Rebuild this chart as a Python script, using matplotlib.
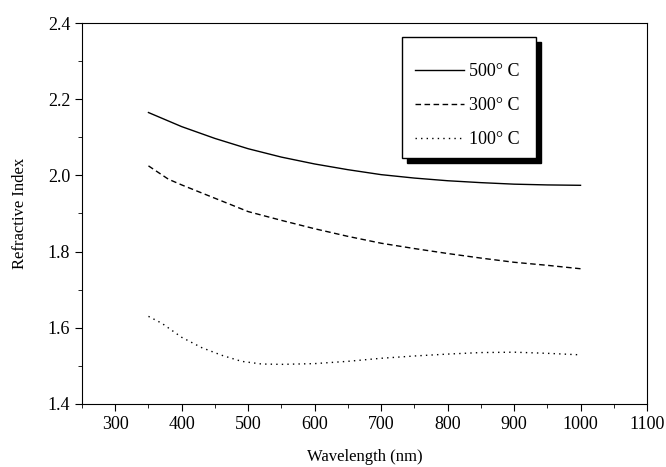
import numpy as np
import matplotlib.pyplot as plt
from matplotlib.patches import Rectangle

plt.rcParams['font.family'] = ['Liberation Serif', 'DejaVu Serif']

wl_500 = [350, 400, 450, 500, 550, 600, 650, 700, 750, 800, 850, 900, 950, 1000]
n_500 = [2.165, 2.128, 2.097, 2.070, 2.048, 2.030, 2.015, 2.002, 1.993, 1.986, 1.981, 1.977, 1.975, 1.974]

wl_300 = [350, 380, 400, 450, 500, 550, 600, 650, 700, 750, 800, 850, 900, 950, 1000]
n_300 = [2.025, 1.990, 1.975, 1.940, 1.905, 1.882, 1.860, 1.840, 1.822, 1.808, 1.795, 1.783, 1.772, 1.764, 1.755]

wl_100 = [350, 370, 400, 430, 460, 490, 520, 550, 600, 650, 700, 750, 800, 850, 900, 950, 1000]
n_100 = [1.630, 1.612, 1.575, 1.548, 1.528, 1.512, 1.505, 1.504, 1.506, 1.512, 1.520, 1.526, 1.531, 1.535, 1.536, 1.533, 1.529]

labels = ['500° C', '300° C', '100° C']

fig = plt.figure(figsize=(6.66, 4.67), dpi=100)
ax = fig.add_axes([82 / 666, 1 - 404 / 467, (647 - 82) / 666, (404 - 23) / 467])

l1, = ax.plot(wl_500, n_500, color='black', lw=1.0, ls='-')
l2, = ax.plot(wl_300, n_300, color='black', lw=1.0, ls=(0, (4, 2.5)))
l3, = ax.plot(wl_100, n_100, color='black', lw=1.0, ls=(0, (1, 3)))

ax.set_xlim(250, 1100)
ax.set_ylim(1.4, 2.4)
ax.set_xticks(np.arange(300, 1101, 100))
ax.set_xticks(np.arange(250, 1101, 50), minor=True)
ax.set_yticks(np.arange(1.4, 2.41, 0.2))
ax.set_yticks(np.arange(1.4, 2.41, 0.1), minor=True)
ax.yaxis.set_major_formatter(plt.FormatStrFormatter('%.1f'))
ax.tick_params(which='both', direction='out', top=False, right=False, labelsize=13)
ax.tick_params(which='major', length=5)
ax.tick_params(which='minor', length=3)
ax.set_xlabel('Wavelength (nm)', fontsize=12, labelpad=12)
ax.set_ylabel('Refractive Index', fontsize=12, labelpad=14)

# legend box with shadow
x0, y0 = 402 / 666, 1 - 158 / 467
w, h = 134 / 666, 121 / 467
ax.add_patch(Rectangle((x0 + 5 / 666, y0 - 5 / 467), w, h, transform=fig.transFigure,
                       facecolor='black', edgecolor='black', zorder=3, clip_on=False))
ax.add_patch(Rectangle((x0, y0), w, h, transform=fig.transFigure,
                       facecolor='white', edgecolor='black', lw=1.0, zorder=4, clip_on=False))
leg = ax.legend([l1, l2, l3], labels,
                loc='upper left', bbox_to_anchor=(415 / 666, 1 - 63 / 467),
                bbox_transform=fig.transFigure, frameon=False, borderpad=0,
                borderaxespad=0, fontsize=13, handlelength=2.7,
                labelspacing=0.95, handletextpad=0.3)
leg.set_zorder(5)

fig.savefig('out.png', dpi=100)
